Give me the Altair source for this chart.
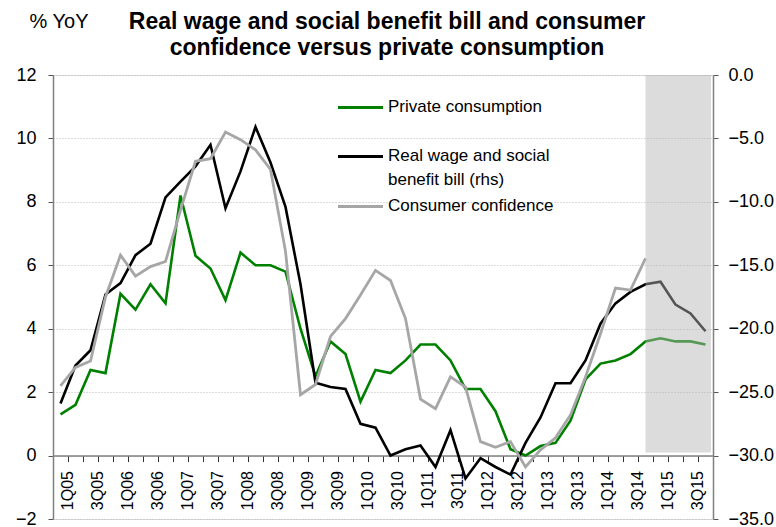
import altair as alt
import pandas as pd

quarters = ["1Q05","2Q05","3Q05","4Q05","1Q06","2Q06","3Q06","4Q06",
            "1Q07","2Q07","3Q07","4Q07","1Q08","2Q08","3Q08","4Q08",
            "1Q09","2Q09","3Q09","4Q09","1Q10","2Q10","3Q10","4Q10",
            "1Q11","2Q11","3Q11","4Q11","1Q12","2Q12","3Q12","4Q12",
            "1Q13","2Q13","3Q13","4Q13","1Q14","2Q14","3Q14","4Q14",
            "1Q15","2Q15","3Q15","4Q15"]

private_consumption = [1.3,1.6,2.7,2.6,5.1,4.6,5.4,4.8,8.2,6.3,5.9,4.9,6.4,6.0,6.0,5.8,
                       4.0,2.5,3.6,3.2,1.7,2.7,2.6,3.0,3.5,3.5,3.0,2.1,2.1,1.4,0.2,0.0,
                       0.3,0.4,1.1,2.4,2.9,3.0,3.2,3.6,3.7,3.6,3.6,3.5]

wage_bill_rhs = [-25.9,-22.9,-21.7,-17.3,-16.4,-14.2,-13.3,-9.65,-8.4,-7.2,-5.5,-10.5,
                 -7.6,-4.1,-6.9,-10.4,-16.5,-24.25,-24.6,-24.75,-27.5,-27.8,-30.0,-29.5,
                 -29.2,-30.9,-28.0,-31.8,-30.2,-30.9,-31.5,-29.0,-27.0,-24.3,-24.3,-22.5,
                 -19.6,-18.0,-17.1,-16.5,-16.3,-18.1,-18.8,-20.2]

consumer_confidence_rhs = [-24.5,-23.05,-22.55,-17.5,-14.2,-15.85,-15.1,-14.7,-10.65,-6.8,
                           -6.6,-4.5,-5.1,-5.9,-7.45,-13.9,-25.2,-24.4,-20.6,-19.2,-17.35,
                           -15.4,-16.2,-19.2,-25.55,-26.3,-23.8,-24.6,-28.9,-29.35,-28.9,
                           -30.9,-29.55,-28.6,-26.8,-23.8,-20.4,-16.8,-16.95,-14.45,
                           None,None,None,None]

left_ticks = [-2,0,2,4,6,8,10,12]
right_ticks = [-35,-30,-25,-20,-15,-10,-5,0]

title_lines = ["Real wage and social benefit bill and consumer",
               "confidence versus private consumption"]
unit_label = "% YoY"
legend_labels = ["Private consumption", "Real wage and social", "benefit bill (rhs)",
                 "Consumer confidence"]

FONT = "Liberation Sans, Arial"
W, H = 660, 444
BAND = W / len(quarters)

df = pd.DataFrame({
    "q": quarters,
    "pc": private_consumption,
    "wage": wage_bill_rhs,
    "conf": consumer_confidence_rhs,
})

label_expr = ("(indexof(datum.label,'1Q')==0 || indexof(datum.label,'3Q')==0) "
              "? datum.label : ''")

x_enc = alt.X("q:N", sort=quarters, bandPosition=0.5,
              scale=alt.Scale(type="band", domain=quarters, paddingInner=0, paddingOuter=0),
              axis=alt.Axis(title=None, bandPosition=0, labelOffset=BAND / 2,
                            labelAngle=270, labelExpr=label_expr, labelFont=FONT,
                            labelFontSize=16, labelColor="#000000", labelPadding=9,
                            tickSize=6, tickColor="#333333", domainColor="#808080",
                            domainWidth=1.5, grid=False, offset=-H * 2 / 14,
                            labelOverlap=False, labelBound=False, labelFlush=False))

left_scale = alt.Scale(domain=[-2, 12], nice=False, zero=False)
right_scale = alt.Scale(domain=[-35, 0], nice=False, zero=False)

base = alt.Chart(df)

green = base.mark_line(color="#008000", strokeWidth=2.6).encode(
    x=x_enc,
    y=alt.Y("pc:Q", scale=left_scale,
            axis=alt.Axis(values=left_ticks, title=None,
                          labelFont=FONT, labelFontSize=18, labelColor="#000000",
                          labelPadding=12, tickSize=5, tickColor="#555555",
                          domainColor="#808080", domainWidth=1.5,
                          grid=True, gridColor="#b8b8b8", gridDash=[1, 2],
                          gridWidth=1)),
)

one = alt.Data(values=[{}])

def legend_rule(y_px, color):
    return alt.Chart(one).mark_rule(color=color, strokeWidth=3).encode(
        x=alt.value(285), x2=alt.value(330), y=alt.value(y_px))

leg_rules = (legend_rule(32.5, "#008000")
             + legend_rule(81.5, "#000000")
             + legend_rule(131.5, "#a6a6a6"))

leg_text = alt.Chart(one).mark_text(
    align="left", baseline="middle", font=FONT, fontSize=17, color="#000000")

legend_texts = (leg_text.encode(x=alt.value(335), y=alt.value(32), text=alt.value(legend_labels[0]))
                + leg_text.encode(x=alt.value(335), y=alt.value(81), text=alt.value(legend_labels[1]))
                + leg_text.encode(x=alt.value(335), y=alt.value(105), text=alt.value(legend_labels[2]))
                + leg_text.encode(x=alt.value(335), y=alt.value(131), text=alt.value(legend_labels[3])))

title_text = alt.Chart(one).mark_text(
    align="center", baseline="middle", font=FONT, fontSize=23, fontWeight="bold",
    color="#000000")
titles = (title_text.encode(x=alt.value(334), y=alt.value(-53), text=alt.value(title_lines[0]))
          + title_text.encode(x=alt.value(334), y=alt.value(-27), text=alt.value(title_lines[1])))

unit = alt.Chart(one).mark_text(
    align="center", baseline="middle", font=FONT, fontSize=20, color="#000000").encode(
    x=alt.value(6), y=alt.value(-53), text=alt.value(unit_label))

left_layer = alt.layer(green, leg_rules, legend_texts, titles, unit)

right_axis = alt.Axis(values=right_ticks, orient="right", format=".1f", title=None,
                      labelFont=FONT, labelFontSize=18, labelColor="#000000",
                      labelPadding=10, tickSize=5, tickColor="#555555",
                      domainColor="#808080", domainWidth=1.5, grid=False)

black = base.mark_line(color="#000000", strokeWidth=2.6).encode(
    x=x_enc, y=alt.Y("wage:Q", scale=right_scale, axis=right_axis))

gray = base.transform_filter("isValid(datum.conf)").mark_line(
    color="#a6a6a6", strokeWidth=2.8).encode(
    x=x_enc, y=alt.Y("conf:Q", scale=right_scale, axis=right_axis))

shade = alt.Chart(one).mark_rect(
    color="#b5b5b5", opacity=0.47).encode(
    x=alt.value(BAND * 39.5), x2=alt.value(W - 2),
    y=alt.YDatum(0, scale=right_scale, axis=right_axis), y2=alt.Y2Datum(-29.75))

right_layer = alt.layer(black, gray, shade)

chart = alt.layer(left_layer, right_layer).resolve_scale(y="independent").properties(
    width=W, height=H,
    autosize=alt.AutoSizeParams(type="none"),
    padding={"left": 53, "top": 75, "right": 63, "bottom": 8},
).configure_view(stroke=None).configure(background="#ffffff")

chart.save("out.html", embed_options={"renderer": "svg", "actions": False})
